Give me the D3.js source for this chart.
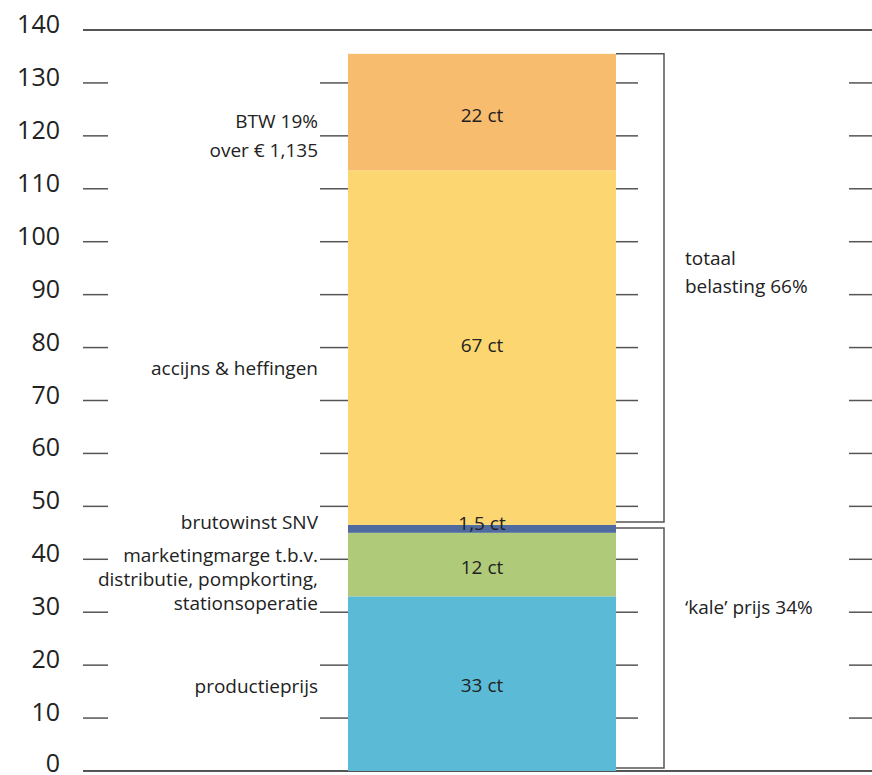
<!DOCTYPE html>
<html>
<head>
<meta charset="utf-8">
<script src="https://cdn.jsdelivr.net/npm/d3@7"></script>
<style>
  body { margin: 0; background: #fff; }
  text { font-family: "Open Sans", sans-serif; fill: #222; }
</style>
</head>
<body>
<div id="chart"></div>
<script>
// price build-up of one litre of petrol, in cents
var segments = ["productieprijs", "marketingmarge", "brutowinst SNV", "accijns & heffingen", "BTW"];
var values = [33, 12, 1.5, 67, 22];
var valueLabels = ["33 ct", "12 ct", "1,5 ct", "67 ct", "22 ct"];
var sideLabels = [
  ["productieprijs"],
  ["marketingmarge t.b.v.", "distributie, pompkorting,", "stationsoperatie"],
  ["brutowinst SNV"],
  ["accijns & heffingen"],
  ["BTW 19%", "over \u20ac 1,135"]
];
var tickValues = [0, 10, 20, 30, 40, 50, 60, 70, 80, 90, 100, 110, 120, 130, 140];
// brackets on the right: which segments they group
var bracketGroups = [[0, 2], [3, 4]];
var bracketLabels = [["\u2018kale\u2019 prijs 34%"], ["totaal", "belasting 66%"]];

var colors = ["#5bbbd6", "#afcb7a", "#4f6a9e", "#fcd670", "#f7bc6e"];
// vertical nudges (px) of labels from the middle of what they describe
var sideShift = [3, 15, -7, 21, 24];
var sideLineH = [24, 24, 24, 24, 29];
var valueShift = [2, 3, -6, -2, 3];
var bracketShift = [-41, -16];

var W = 872, H = 775;
var fs = 19;
var svg = d3.select("#chart").append("svg").attr("width", W).attr("height", H);

var y = d3.scaleLinear().domain([0, 140]).range([771, 30]);
var barX0 = 348, barX1 = 616;

// stack
var stack = [];
var acc = 0;
values.forEach(function (v, i) {
  stack.push({ i: i, y0: acc, y1: acc + v });
  acc += v;
});

// tick marks in four columns
var cols = [[83, 108], [320, barX0], [barX1, 638], [849, W]];
var inner = tickValues.filter(function (t) { return t > 0 && t < 140; });
cols.forEach(function (c) {
  svg.selectAll(null).data(inner).enter().append("line")
    .attr("x1", c[0]).attr("x2", c[1])
    .attr("y1", function (d) { return y(d); })
    .attr("y2", function (d) { return y(d); })
    .attr("stroke", "#555").attr("stroke-width", 1.5);
});

// top and bottom full lines
svg.selectAll(null).data([0, 140]).enter().append("line")
  .attr("x1", 83).attr("x2", W)
  .attr("y1", function (d) { return y(d); })
  .attr("y2", function (d) { return y(d); })
  .attr("stroke", "#555").attr("stroke-width", 2);

// axis labels, baseline just under the tick
var axis = svg.append("g").attr("transform", "translate(60,0)")
  .call(d3.axisLeft(y).tickValues(tickValues).tickSize(0).tickPadding(0));
axis.select(".domain").remove();
axis.selectAll("text")
  .attr("dy", function (d) { return d === 0 ? "0em" : "0.1em"; })
  .style("font-family", "'Open Sans', sans-serif")
  .style("font-size", "25px").attr("fill", "#222");

// bars
svg.selectAll(".seg").data(stack).enter().append("rect")
  .attr("class", "seg")
  .attr("x", barX0).attr("width", barX1 - barX0)
  .attr("y", function (d) { return y(d.y1); })
  .attr("height", function (d) { return y(d.y0) - y(d.y1); })
  .attr("fill", function (d) { return colors[d.i]; });

// value labels in the bar
svg.selectAll(".val").data(stack).enter().append("text")
  .attr("class", "val")
  .attr("x", (barX0 + barX1) / 2)
  .attr("y", function (d) { return y((d.y0 + d.y1) / 2) + valueShift[d.i]; })
  .attr("dy", "0.35em")
  .attr("text-anchor", "middle")
  .style("font-size", fs + "px")
  .text(function (d) { return valueLabels[d.i]; });

// labels to the left of the bar
stack.forEach(function (d) {
  var lines = sideLabels[d.i];
  var lh = sideLineH[d.i];
  var cy = y((d.y0 + d.y1) / 2) + sideShift[d.i];
  var t = svg.append("text").attr("text-anchor", "end").style("font-size", fs + "px");
  lines.forEach(function (s, k) {
    t.append("tspan").attr("x", 318)
      .attr("y", cy + (k - (lines.length - 1) / 2) * lh)
      .attr("dy", "0.35em").text(s);
  });
});

// brackets
var bx = 664;
bracketGroups.forEach(function (g, j) {
  var top = y(stack[g[1]].y1) + (j === 0 ? 3 : 0);
  var bot = y(stack[g[0]].y0) - 3;
  svg.append("path")
    .attr("d", "M" + barX1 + "," + top + "H" + bx + "V" + bot + "H" + barX1)
    .attr("fill", "none").attr("stroke", "#555").attr("stroke-width", 1.5);
  var lines = bracketLabels[j];
  var cy = (top + bot) / 2 + bracketShift[j];
  var t = svg.append("text").attr("text-anchor", "start").style("font-size", fs + "px");
  lines.forEach(function (s, k) {
    t.append("tspan").attr("x", 685)
      .attr("y", cy + (k - (lines.length - 1) / 2) * 28)
      .attr("dy", "0.35em").text(s);
  });
});
</script>
</body>
</html>
